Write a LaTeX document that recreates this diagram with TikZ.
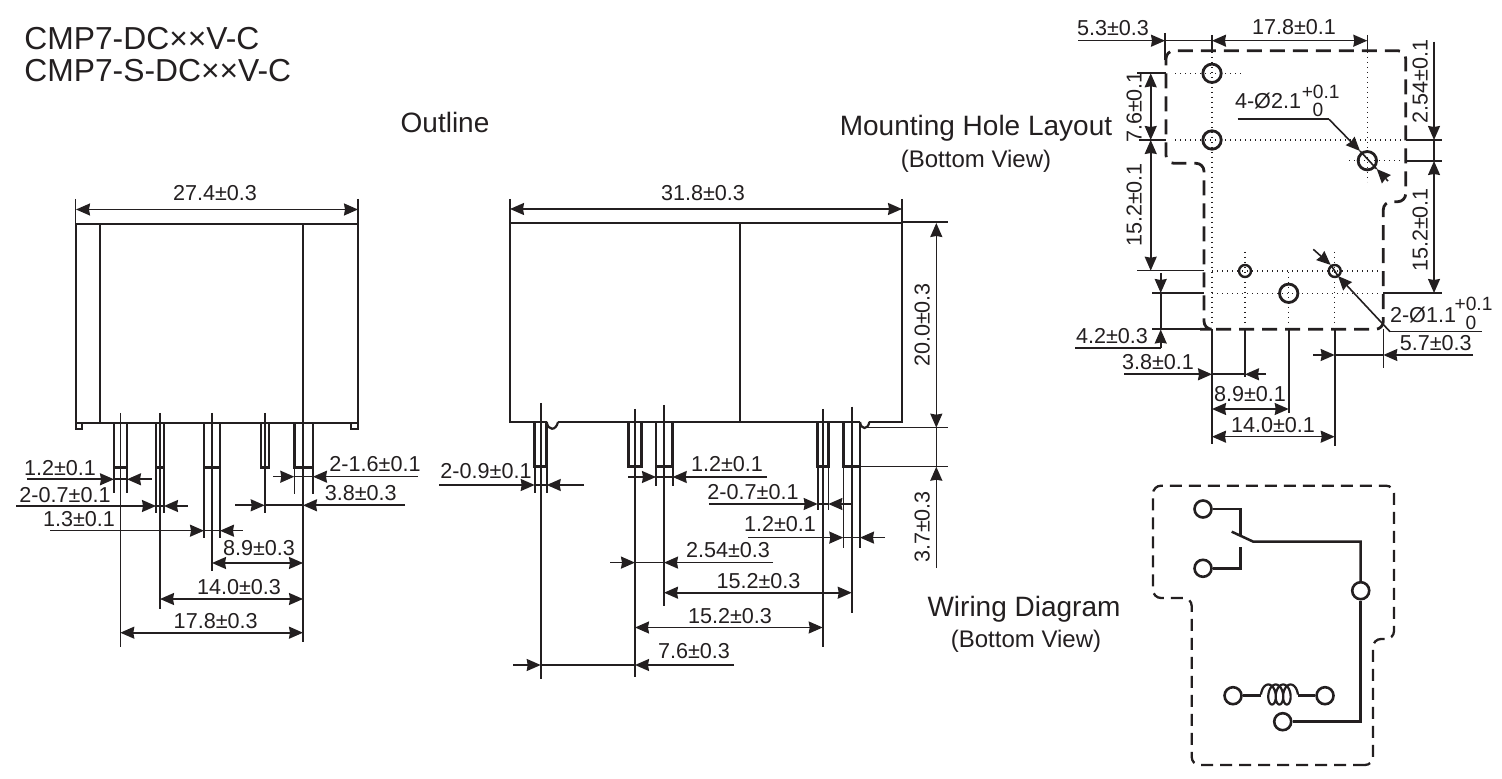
\documentclass[tikz,border=0pt]{standalone}
\usepackage{fontspec}
\setmainfont{Liberation Sans}
\usetikzlibrary{arrows.meta}
\definecolor{ink}{HTML}{231F20}
\tikzset{
  thickln/.style={draw=ink,line width=1.4pt},
  dimln/.style={draw=ink,line width=.8pt},
  dimtipped/.style={dimln,>={Stealth[length=7pt,width=6pt,inset=.5pt]}},
  dots/.style={draw=ink,line width=.55pt,dash pattern=on .6pt off 1.9pt},
  outlineA/.style={draw=ink,line width=1.4pt,dash pattern=on 7.5pt off 4pt,rounded corners=4pt},
  outlineB/.style={draw=ink,line width=1.15pt,dash pattern=on 6pt off 3.5pt,rounded corners=4pt},
  term/.style={circle,draw=ink,line width=1.3pt,fill=white,minimum size=8.5pt,inner sep=0pt},
  wire/.style={draw=ink,line width=1.25pt},
  dimtext/.style={text=ink,font=\fontsize{10.8}{12}\selectfont,anchor=base,inner sep=0pt},
  tolrtext/.style={text=ink,font=\fontsize{9.6}{11}\selectfont,anchor=base,inner sep=0pt},
  bigtext/.style={text=ink,font=\fontsize{14}{16}\selectfont,anchor=base,inner sep=0pt},
  midtext/.style={text=ink,font=\fontsize{12}{14}\selectfont,anchor=base,inner sep=0pt},
  titletext/.style={text=ink,font=\fontsize{15.9}{17}\selectfont,anchor=base west,inner sep=0pt}
}
% horizontal dimension with arrows from outside: y, left start, left tip, right start, right tip
\newcommand{\hout}[5]{%
  \draw[dimtipped,->] (#2,#1)--(#3,#1);
  \draw[dimtipped,->] (#4,#1)--(#5,#1);
  \draw[dimln] (#3,#1)--(#5,#1);}
% double arrow: y, x1, x2
\newcommand{\hdbl}[3]{\draw[dimtipped,<->] (#2,#1)--(#3,#1);}
% thin vertical line: x, y1, y2
\newcommand{\vln}[3]{\draw[dimln] (#1,#2)--(#1,#3);}
% pin: x1,x2,top,bottom
\newcommand{\pinbox}[4]{\draw[thickln] (#1,#3)--(#1,#4)--(#2,#4)--(#2,#3);}
% label centred at x, digit centre y
\newcommand{\lab}[4]{\pgfmathsetmacro{\ybase}{#3+7.6}\node[dimtext] (#1) at (#2,\ybase) {#4};}
\newcommand{\tol}[4]{\pgfmathsetmacro{\ybase}{#3+6.8}\node[tolrtext] (#1) at (#2,\ybase) {#4};}
\newcommand{\rlab}[4]{\pgfmathsetmacro{\xbase}{#2+7.6}\node[dimtext,rotate=90] (#1) at (\xbase,#3) {#4};}
\begin{document}
\begin{tikzpicture}[x=.5pt,y=-.5pt]
\useasboundingbox (0,0) rectangle (1502,779);
% ---------- titles
\node[titletext] (title1) at (24,50) {CMP7-DC××V-C};
\node[titletext] (title2) at (24,82) {CMP7-S-DC××V-C};
\node[bigtext] (outline) at (445,133) {Outline};
\node[bigtext] (mount) at (976,136) {Mounting Hole Layout};
\node[midtext] (mountb) at (976,168) {(Bottom View)};
\node[bigtext] (wiring) at (1024,616) {Wiring Diagram};
\node[midtext] (wiringb) at (1026,647) {(Bottom View)};
% ---------- left view
\draw[thickln] (76,423)--(76,224)--(358,224)--(358,423)--cycle;
\draw[thickln] (100,224)--(100,423);
\draw[thickln] (303,224)--(303,423);
\draw[draw=ink,line width=.9pt] (76,423)--(76,429)--(82,429)--(82,423);
\draw[draw=ink,line width=.9pt] (351,423)--(351,429)--(358,429)--(358,423);
\pinbox{114}{127}{423}{467.5}
\pinbox{156}{164}{423}{467.5}
\pinbox{204}{220}{423}{467.5}
\pinbox{261}{269}{423}{467.5}
\pinbox{294.3}{313}{423}{467.5}
\vln{120.3}{413}{647}
\vln{160}{413}{609}
\vln{212}{413}{571}
\vln{264.7}{413}{513}
\vln{303}{423}{642}
\vln{114}{467}{493}\vln{127}{467}{493}
\vln{156}{467}{513}\vln{164}{467}{513}
\vln{204}{467}{538}\vln{220}{467}{538}
\vln{294.3}{467}{494}\vln{313}{467}{494}
\vln{75.5}{199}{224}\vln{358}{199}{224}
\hdbl{209.5}{76}{358}
\lab{la}{215}{193}{27.4±0.3}
\hout{479.3}{27}{114}{151.7}{127}
\lab{lb}{60}{468}{1.2±0.1}
\hout{506}{16}{156}{187.7}{164}
\lab{lc}{65}{495}{2-0.7±0.1}
\hout{530.7}{50}{204}{242.7}{220}
\lab{ld}{79}{519}{1.3±0.1}
\hout{476.7}{273}{294.3}{418}{313}
\lab{le}{375}{464}{2-1.6±0.1}
\hout{505.3}{235}{264.7}{405}{303}
\lab{lf}{360.7}{493}{3.8±0.3}
\hdbl{563}{212}{303}
\lab{lg}{259}{548}{8.9±0.3}
\hdbl{599}{160}{303}
\lab{lh}{239}{586.5}{14.0±0.3}
\hdbl{632.7}{120.3}{303}
\lab{li}{215.7}{621}{17.8±0.3}
% ---------- middle view
\draw[thickln] (546.7,422)--(510,422)--(510,223)--(902,223)--(902,422)--(869.3,422);
\draw[thickln] (558,422)--(860,422);
\draw[draw=ink,line width=1.1pt] (546.7,422) .. controls (548,431) and (556,431) .. (558,422);
\draw[draw=ink,line width=1.1pt] (860,422) .. controls (861,430) and (868,430) .. (869.3,422);
\draw[thickln] (740,223)--(740,422);
\pinbox{534.7}{546.7}{422}{466.7}
\pinbox{628.3}{641.7}{422}{466.7}
\pinbox{656}{672.7}{422}{466.7}
\pinbox{817.7}{828.3}{422}{466.7}
\pinbox{843.3}{860}{422}{466.7}
\vln{540.7}{403}{679}
\vln{635}{409}{677}
\vln{664}{405}{606}
\vln{822.7}{409}{647}
\vln{851.7}{406.7}{613}
\vln{534.7}{466}{493}\vln{546.7}{466}{493}
\vln{656}{466}{486}\vln{672.7}{466}{486}
\vln{817.7}{466}{510}\vln{828.3}{466}{510}
\vln{843.3}{466}{548}\vln{860}{466}{548}
\vln{510}{199}{223}\vln{902}{199}{223}
\draw[dimln] (902,222)--(948,222);
\draw[dimln] (862,427.7)--(948,427.7);
\draw[dimln] (860,466.7)--(948,466.7);
\hdbl{209}{510}{902}
\lab{ma}{703}{193}{31.8±0.3}
\hout{485}{439}{534.7}{584}{546.7}
\lab{mb}{486}{471}{2-0.9±0.1}
\hout{477}{628}{656}{767}{672.7}
\lab{mc}{727}{464}{1.2±0.1}
\hout{504}{709}{817.7}{851.5}{828.3}
\lab{md}{753}{492}{2-0.7±0.1}
\hout{537.6}{748}{843.3}{885}{860}
\lab{me}{780}{524}{1.2±0.1}
\hout{562.6}{610}{635}{773}{664}
\lab{mf}{728}{550}{2.54±0.3}
\hdbl{592.7}{664}{851.7}
\lab{mg}{758.5}{581}{15.2±0.3}
\hdbl{627.5}{635}{822.7}
\lab{mh}{730}{616}{15.2±0.3}
\hout{665}{513}{540.7}{734}{635}
\lab{mi}{694}{651}{7.6±0.3}
\draw[dimtipped,<->] (936.3,223)--(936.3,427.7);
\draw[dimtipped,->] (936.3,568)--(936.3,466.7);
\vln{936.3}{427.7}{467}
\rlab{mj}{922}{325}{20.0±0.3}
\rlab{mk}{922}{527}{3.7±0.3}
% ---------- mounting layout
\draw[outlineA] (1208,329.3)--(1383.3,329.3)--(1383.3,201.7)--(1405.7,201.7)--(1405.7,50.7)--(1166,50.7)--(1166,163.3)--(1204,163.3)--(1204,329.3)--cycle;
\draw[dots] (1175,73.3)--(1243,73.3);
\draw[dots] (1175,140)--(1404,140);
\draw[dots] (1349,160.7)--(1404,160.7);
\draw[dots] (1212,52)--(1212,325);
\draw[dots] (1367.3,52)--(1367.3,182);
\draw[dots] (1212,271)--(1380,271);
\draw[dots] (1212,293.3)--(1380,293.3);
\draw[dots] (1245,252)--(1245,323);
\draw[dots] (1288.7,272)--(1288.7,323);
\draw[dots] (1334.7,252)--(1334.7,323);
\foreach \hx/\hy in {1212/73.3,1212/140,1367.3/160.7,1288.7/293.3}
  \draw[thickln] (\hx,\hy) circle[radius=4.6pt];
\foreach \hx/\hy in {1245/271,1334.7/271}
  \draw[draw=ink,line width=1.2pt] (\hx,\hy) circle[radius=3pt];
% extension lines
\vln{1165}{33}{60}\vln{1212}{35}{50}\vln{1367.3}{35}{50}
\draw[dimln] (1137,73.3)--(1166,73.3);
\draw[dimln] (1139,140)--(1166,140);
\draw[dimln] (1137,270.7)--(1204,270.7);
\draw[dimln] (1152,293)--(1204,293);
\draw[dimln] (1152,329.3)--(1204,329.3);
\draw[dimln] (1406,140)--(1441.7,140);
\draw[dimln] (1406,161)--(1441.7,161);
\draw[dimln] (1383.3,293)--(1441.7,293);
\vln{1212}{329}{444}\vln{1245}{329}{377}\vln{1288.7}{329}{413}\vln{1334.7}{329}{446}\vln{1383.3}{329}{368}
% dimensions
\draw[dimtipped,->] (1078,40.7)--(1165,40.7);
\draw[dimln] (1165,40.7)--(1212,40.7);
\hdbl{40.7}{1212}{1367.3}
\lab{ra}{1113}{28}{5.3±0.3}
\lab{rb}{1294}{27}{17.8±0.1}
\draw[dimtipped,->] (1434,41.7)--(1434,140);
\draw[dimln] (1434,140)--(1434,161);
\draw[dimtipped,<->] (1434,161)--(1434,293);
\rlab{rc}{1420}{81.7}{2.54±0.1}
\rlab{rd}{1420}{230}{15.2±0.1}
\draw[dimtipped,<->] (1150.7,73.3)--(1150.7,140);
\draw[dimtipped,<->] (1150.7,140)--(1150.7,270.7);
\rlab{re}{1134}{107}{7.6±0.1}
\rlab{rf}{1134}{205}{15.2±0.1}
\draw[dimtipped,->] (1160.7,273)--(1160.7,293);
\vln{1160.7}{293}{329.3}
\draw[dimtipped,->] (1160.7,348)--(1160.7,329.5);
\draw[dimln] (1075,348)--(1160.7,348);
\lab{rg}{1112}{336}{4.2±0.3}
\hout{374.3}{1124}{1212}{1266}{1245}
\lab{rh}{1158}{361.7}{3.8±0.1}
\hdbl{409}{1212}{1288.7}
\lab{ri}{1250}{394}{8.9±0.1}
\hdbl{436.7}{1212}{1334.7}
\lab{rj}{1273}{425}{14.0±0.1}
\hout{355}{1313}{1334.7}{1473}{1383.3}
\lab{rk}{1435.7}{343}{5.7±0.3}
% leaders
\draw[dimln] (1237.7,119.3)--(1329,119.3);
\draw[dimtipped,->] (1329,119.3)--(1360,151);
\draw[dimln] (1360,151)--(1376.7,169);
\draw[dimtipped,->] (1388,181)--(1376.7,169);
\lab{rl}{1268}{100.7}{4-Ø2.1}
\tol{rm}{1320.7}{91.7}{+0.1}
\tol{rn}{1318}{110}{0}
\draw[dimln] (1481.7,331.7)--(1390,331.7);
\draw[dimtipped,->] (1390,331.7)--(1338,276);
\draw[dimln] (1338,276)--(1330.7,265);
\draw[dimtipped,->] (1313.3,249.3)--(1330.7,265);
\lab{ro}{1423}{315}{2-Ø1.1}
\tol{rp}{1473.5}{304}{+0.1}
\tol{rq}{1471}{323}{0}
% ---------- wiring diagram
\draw[outlineB] (1373,765)--(1191.7,765)--(1191.7,598)--(1153,598)--(1153,485.7)--(1394,485.7)--(1394,639)--(1373,639)--cycle;
\node[term] (A) at (1203,509) {};
\node[term] (B) at (1203,568.3) {};
\node[term] (C) at (1360.7,590.7) {};
\node[term] (D) at (1233,695.7) {};
\node[term] (E) at (1325,695.7) {};
\node[term] (F) at (1282.7,721.7) {};
\coordinate (upc) at (1240.7,535);
\coordinate (loc) at (1240.7,546.7);
\coordinate (swa) at (1231.7,531.7);
\coordinate (swb) at (1253.3,541.7);
\coordinate (cl) at (1261,695.7);
\coordinate (cr) at (1298,695.7);
\draw[wire] (A.east) -| (upc);
\draw[wire] (B.east) -| (loc);
\draw[wire] (swa)--(swb)-|(C.north);
\draw[wire] (C.south)|-(F.east);
\draw[wire] (D.east)--(cl);
\draw[wire] (E.west)--(cr);
\draw[wire,line width=1.1pt] plot[domain=1.5708:23.562,samples=160,smooth] ({1264.6+1.18*\x-5.5*sin(\x r)},{694.5+10*cos(\x r)});
\end{tikzpicture}
\end{document}
